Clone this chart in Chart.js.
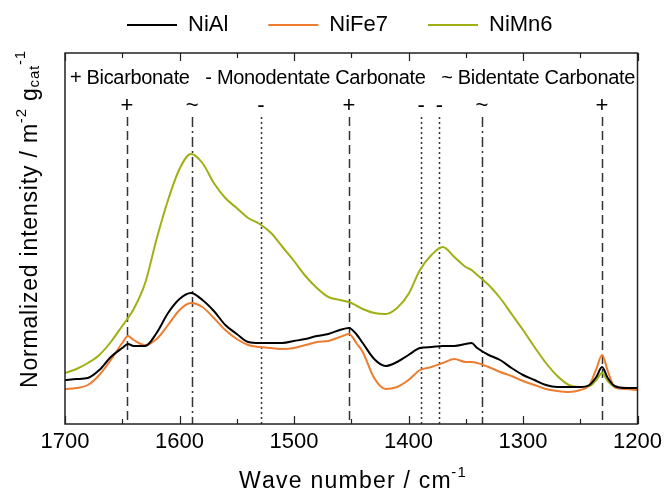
<!DOCTYPE html>
<html><head><meta charset="utf-8">
<script src="https://cdn.jsdelivr.net/npm/chart.js@4/dist/chart.umd.min.js"></script>
<style>html,body{margin:0;padding:0;background:#fff;}#wrap{width:667px;height:494px;}</style>
</head><body><div id="wrap"><canvas id="c" width="667" height="494"></canvas></div>
<script>
// ---- data ----
const wavenumbers = [1700,1690,1680,1670,1660, 1650,1645,1640,1630,1620, 1610,1600,1590,1580,1570, 1560,1550,1540,1530,1520, 1510,1500,1490,1480,1470, 1460,1452,1445,1440,1430, 1420,1410,1400,1390,1380, 1370,1360,1350,1345,1340, 1330,1320,1310,1300,1290, 1280,1270,1260,1250,1242, 1236,1231,1226,1220,1210, 1200];
const niAl  = [44,45,46,54,67, 76,80,78,78,91, 111,125,131,124,113, 99,90,82,81,81, 81,83,85,88,90, 94,96,89,81,65, 58,62,69,76,77, 78,78,80,81,76, 69,64,56,49,44, 39,37,37,37,39, 47,57,46,38,36, 36];
const niFe7 = [35,36,39,49,64, 81,88,84,79,85, 99,114,121,117,106, 94,85,79,77,76, 75,76,79,82,83, 87,90,80,72,46, 35,37,44,54,57, 61,65,62,62,61, 57,52,48,43,39, 35,33,32,34,39, 55,69,53,37,35, 34];
const niMn6 = [51,55,61,69,82, 98,106,115,141,185, 224,255,270,261,241, 226,216,206,200,191, 177,163,148,136,127, 124,122,118,115,111, 110,116,130,154,169, 177,167,157,154,149, 139,126,110,94,77, 61,48,39,37,38, 44,51,43,37,36, 36];
const seriesLabels = ['NiAl','NiFe7','NiMn6'];
const seriesColors = ['#000000','#ED7D31','#A0B014'];
const xTicks = [1700,1600,1500,1400,1300,1200];
const bandPositions = [1646,1589,1529,1452,1389,1373,1336,1231];
const bandSymbols   = ['+','~','-','+','-','-','~','+'];
const bandLegendText = '+ Bicarbonate   - Monodentate Carbonate   ~ Bidentate Carbonate';

const FONT = '"Liberation Sans", Arial, Helvetica, sans-serif';
function setFont(ctx, s){ ctx.font = s + 'px ' + FONT; }
function drawRichFit(ctx, parts, x, y, targetW){
  let nat = 0, n = 0;
  for (const p of parts){ setFont(ctx, p.s); nat += ctx.measureText(p.t).width; n += p.t.length; }
  const ls = targetW ? (targetW - nat) / n : 0;
  let cx = x;
  for (const p of parts){
    setFont(ctx, p.s);
    const w = ctx.measureText(p.t).width;
    let px = cx;
    for (const ch of p.t){ ctx.fillText(ch, px, y + (p.dy||0)); px += ctx.measureText(ch).width + ls; }
    cx += w + ls * p.t.length;
  }
}

const legendPatch = {
  id: 'legendPatch',
  beforeLayout(chart){
    const lg = chart.legend;
    if (!lg || lg._patched) return;
    lg._patched = true;
    const fit = lg.fit;
    lg.fit = function(){ fit.call(this); this.height = 53; };
    const draw = lg.draw;
    lg.draw = function(){
      const c = this.ctx;
      const hb = this.legendHitBoxes && this.legendHitBoxes[0];
      let dx = 0, dy = 0;
      if (hb){ dx = 127 - hb.left; dy = 25 - (hb.top + hb.height / 2); }
      c.save(); c.translate(dx, dy);
      c.clip = function(){};
      draw.call(this);
      delete c.clip;
      c.restore();
    };
  }
};

const decor = {
  id: 'decor',
  beforeDatasetsDraw(chart){
    const ctx = chart.ctx, xs = chart.scales.x, a = chart.chartArea;
    ctx.save();
    ctx.strokeStyle = '#333'; ctx.lineWidth = 1.5;
    bandPositions.forEach((w, i) => {
      const sym = bandSymbols[i];
      const px = Math.round(xs.getPixelForValue(w)) + 0.5;
      ctx.setLineDash(sym === '+' ? [9,5] : sym === '~' ? [10,4,2,4] : [2,3]);
      ctx.beginPath(); ctx.moveTo(px, 117); ctx.lineTo(px, a.bottom); ctx.stroke();
    });
    ctx.restore();
  },
  afterDraw(chart){
    const ctx = chart.ctx, xs = chart.scales.x, a = chart.chartArea;
    ctx.save();
    ctx.setLineDash([]);
    ctx.strokeStyle = '#222'; ctx.lineWidth = 1.5;
    ctx.strokeRect(a.left, a.top, a.right - a.left, a.bottom - a.top);
    ctx.lineWidth = 1.2;
    for (let w = 1200; w <= 1700; w += 50){
      const px = Math.round(xs.getPixelForValue(w)) + 0.5;
      const len = (w % 100 === 0) ? 8 : 5;
      ctx.beginPath();
      ctx.moveTo(px, a.bottom); ctx.lineTo(px, a.bottom - len);
      ctx.moveTo(px, a.top); ctx.lineTo(px, a.top + len);
      ctx.stroke();
    }
    ctx.fillStyle = '#000';
    ctx.textBaseline = 'middle'; ctx.textAlign = 'center';
    setFont(ctx, 22);
    bandPositions.forEach((w, i) => {
      ctx.fillText(bandSymbols[i], xs.getPixelForValue(w), 106);
    });
    ctx.textAlign = 'left'; ctx.textBaseline = 'alphabetic';
    drawRichFit(ctx, [{t: bandLegendText, s: 20}], 70, 84, 565);
    drawRichFit(ctx, [{t:'Wave number / cm', s:23}, {t:'-1', s:15, dy:-11}], 239, 488, 228);
    ctx.translate(37, 388); ctx.rotate(-Math.PI/2);
    drawRichFit(ctx, [{t:'Normalized intensity / m', s:23}, {t:'-2', s:15, dy:-11}, {t:' g', s:23}, {t:'cat', s:15, dy:2}, {t:'-1', s:15, dy:-12}], 0, 0, 338);
    ctx.restore();
  }
};

const datasets = [niAl, niFe7, niMn6].map((vals, i) => ({
  label: seriesLabels[i],
  data: wavenumbers.map((w, j) => ({x: w, y: vals[j]})),
  borderColor: seriesColors[i],
  backgroundColor: seriesColors[i],
  borderWidth: 2,
  pointRadius: 0,
  cubicInterpolationMode: 'monotone',
  fill: false
}));

new Chart(document.getElementById('c'), {
  type: 'line',
  data: { datasets },
  options: {
    responsive: false, animation: false, devicePixelRatio: 1,
    layout: { padding: { left: 65, right: 25, top: 0, bottom: 0 } },
    scales: {
      x: {
        type: 'linear', min: 1200, max: 1700, reverse: true,
        afterBuildTicks(s){ s.ticks = xTicks.map(v => ({value: v})); },
        ticks: { callback: v => String(v), font: { family: FONT, size: 22 }, color: '#000', padding: 5, maxRotation: 0, autoSkip: false },
        grid: { display: false, drawTicks: false },
        border: { display: false },
        afterFit(s){ s.height = 70; }
      },
      y: { display: false, min: 0, max: 371 }
    },
    plugins: {
      legend: {
        display: true, position: 'top',
        labels: {
          boxWidth: 50, boxHeight: 2, padding: 40, color: '#000',
          font: { family: FONT, size: 22 },
          generateLabels(chart){
            return Chart.defaults.plugins.legend.labels.generateLabels(chart).map(l => Object.assign(l, {lineWidth: 0}));
          }
        }
      },
      tooltip: { enabled: false }
    }
  },
  plugins: [legendPatch, decor]
});
</script></body></html>
